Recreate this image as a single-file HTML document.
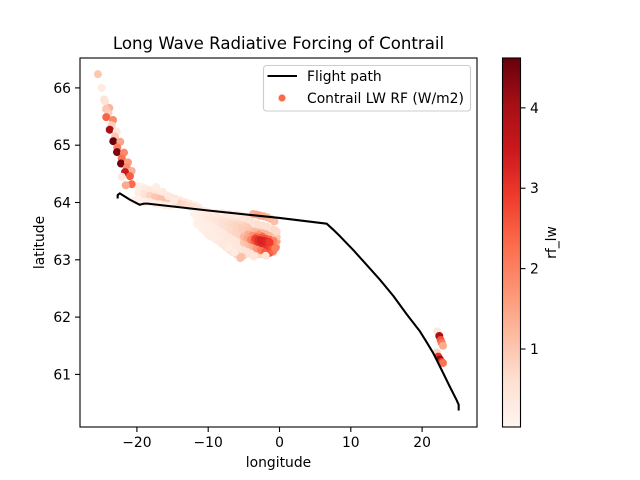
<!DOCTYPE html>
<html>
<head>
<meta charset="utf-8">
<title>Long Wave Radiative Forcing of Contrail</title>
<style>
html,body{margin:0;padding:0;background:#fff;}
svg{display:block;}
text{font-family:"DejaVu Sans",sans-serif;fill:#000;}
</style>
</head>
<body>
<svg id="chart" xmlns="http://www.w3.org/2000/svg" width="640" height="480" viewBox="0 0 640 480">
  <defs>
    <linearGradient id="reds" x1="0" y1="1" x2="0" y2="0">
      <stop offset="0" stop-color="#fff5f0"/>
      <stop offset="0.125" stop-color="#fee0d2"/>
      <stop offset="0.25" stop-color="#fcbba1"/>
      <stop offset="0.375" stop-color="#fc9272"/>
      <stop offset="0.5" stop-color="#fb6a4a"/>
      <stop offset="0.625" stop-color="#ef3b2c"/>
      <stop offset="0.75" stop-color="#cb181d"/>
      <stop offset="0.875" stop-color="#a50f15"/>
      <stop offset="1" stop-color="#67000d"/>
    </linearGradient>
    <clipPath id="plot-clip"><rect x="80" y="58" width="397" height="369"/></clipPath>
  </defs>
  <rect x="0" y="0" width="640" height="480" fill="#fff"/>
  <g id="marks" clip-path="url(#plot-clip)"></g>
  <rect x="80" y="58" width="397" height="369" fill="none" stroke="#000" stroke-width="1.1"/>
  <g id="axes"></g>
  <text x="278.5" y="49" font-size="16.6" text-anchor="middle">Long Wave Radiative Forcing of Contrail</text>
  <text x="278.5" y="467" font-size="13.89" text-anchor="middle">longitude</text>
  <text x="0" y="0" font-size="13.89" text-anchor="middle" transform="translate(44,242.5) rotate(-90)">latitude</text>
  <g>
    <rect x="263.5" y="65.5" width="207" height="45.5" rx="3" fill="#fff" fill-opacity="0.8" stroke="#ccc" stroke-width="1.1"/>
    <line x1="267.5" y1="76" x2="297" y2="76" stroke="#000" stroke-width="2.08"/>
    <text x="307" y="81" font-size="13.89">Flight path</text>
    <circle cx="282" cy="98" r="3.6" fill="#fb6a4a"/>
    <text x="307" y="103" font-size="13.89">Contrail LW RF (W/m2)</text>
  </g>
  <rect x="502.5" y="58" width="18" height="369" fill="url(#reds)" stroke="#000" stroke-width="1.1"/>
  <g id="cbar-axis"></g>
  <text x="0" y="0" font-size="13.89" text-anchor="middle" transform="translate(556,242.5) rotate(-90)">rf_lw</text>
</svg>
<script>
const xTicks = [-20, -10, 0, 10, 20];
const yTicks = [61, 62, 63, 64, 65, 66];
const cbarTicks = [1, 2, 3, 4];
const pathLon = [-22.7,-22.7,-22.4,-21,-19.6,-19,-18.5,-10,0,6.62,7.5,8.49,10.35,12.23,14.1,15.96,17.84,19.7,20.65,21.57,22.97,23.91,24.85,25.13,25.13];
const pathLat = [64.07,64.13,64.16,64.05,63.96,63.98,63.98,63.86,63.73,63.63,63.53,63.41,63.17,62.91,62.65,62.37,62.05,61.75,61.56,61.37,61.02,60.78,60.55,60.47,60.37];
const contrailLon = [
 -20.2,-19.5,-18.8,-18.1,-17.4,-16.7,-16,-15.3,-14.6,-13.9,-13.2,-12.5,-11.8,
 -19,-18.3,-17.6,-16.9,-16.2,-15.5,-14.8,-14.1,-13.4,-12.7,-12,-11.3,
 -19.8,-19,-18.2,-17.5,-16.8,-16.1,-15.4,-14.7,-14,-13.3,-12.6,-11.9,-11.2,-10.5,-9.8,
 -20.3,-19.6,-18.9,-18.2,-17.5,-16.8,-16.1,-15.4,
 -17.3,-16.4,-15.6,-14.8,
 -11.5,-10.9,-10.3,-9.7,-9.1,-8.5,-7.9,-7.3,-6.7,-6.1,-5.5,-4.9,
 -10.5,-9.9,-9.3,-8.7,-8.1,-7.5,-6.9,-6.3,-5.7,-5.1,-4.5,-3.9,-3.3,-2.7,
 -9.5,-8.9,-8.3,-7.7,-7.1,-6.5,-5.9,-5.3,
 -5,-4.5,-4,-3.5,-3,-2.5,
 -11.6,-11,-10.5,-10,-9.5,-9,-8.5,-8,-7.5,-7,-6.5,-6,-5.5,
 -12,-11.4,-10.8,-10.2,-9.6,-9,-8.4,-7.8,-7.2,-6.6,-6,-5.4,-4.8,-4.2,-3.6,
 -11,-10.4,-9.8,-9.2,-8.6,-8,-7.4,-6.8,-6.2,-5.6,-5,-4.4,-3.8,-3.2,-2.6,-1.9,
 -10,-9.4,-8.8,-8.2,-7.6,-7,-6.4,-5.8,-5.2,-4.6,-4,-3.4,-2.8,-2.2,-1.6,-0.9,
 -9,-8.4,-7.8,-7.2,-6.6,-6,-5.4,-4.8,-4.2,-3.6,-3,-2.4,-1.8,-1.2,-0.5,
 -8,-7.4,-6.8,-6.2,-5.6,-5,-4.4,-3.8,-3.2,-2.6,-2,-1.4,-0.9,-0.4,
 -7,-6.4,-5.8,-5.2,-4.6,-4,-3.4,-2.8,-2.2,-1.6,-1,-0.4,
 -6,-5.4,-4.8,-4.2,-3.6,-3,-2.4,-1.8,-1.2,-0.7,-0.4,
 -3.7,-3.2,-2.7,-2.2,-1.7,-1.2,-0.7,
 -5,-4.4,-3.8,-3.2,-2.6,-2,-1.4,-0.9,
 -4.4,-3.8,-3.2,-2.6,-2,-1.4,-0.8,
 -5,-4.5,-4,-3.5,-3,-2.5,-2,-1.5,-1,-0.6,
 -3.4,-3,-2.6,-2.2,-1.8,-1.4,
 -1.94,-10,-11.2,-6.3,-7.1,-5.3,
 -25.46,-24.94,-24.6,-24.47,-23.87,-24.33,-24,-24.3,-23.35,-23.53,-23.81,-22.83,-23.07,-23.31,-22.33,-22.75,-22.79,-21.81,-22.13,-22.23,-21.25,-21.43,-20.73,-21.67,-20.97,-22.13,-20.73,-21.57,
 22.13,22.41,22.6,22.75,22.93,22.05,22.27,22.5,22.75,22.93
];
const contrailLat = [
 64.3,64.28,64.25,64.22,64.19,64.16,64.13,64.1,64.07,64.04,64.01,63.98,63.95,
 64.23,64.2,64.17,64.14,64.12,64.09,64.06,64.03,64,63.97,63.94,63.91,
 64.17,64.14,64.12,64.09,64.07,64.05,64.03,64,63.98,63.96,63.93,63.91,63.88,63.85,63.82,
 64.04,64.02,64,64.01,63.98,63.97,63.95,63.94,
 64.27,64.19,64.11,64.03,
 63.7,63.63,63.57,63.52,63.47,63.42,63.37,63.32,63.26,63.2,63.14,63.08,
 63.76,63.7,63.65,63.6,63.55,63.51,63.46,63.41,63.37,63.32,63.27,63.22,63.16,63.1,
 63.77,63.72,63.68,63.64,63.59,63.55,63.5,63.46,
 63.14,63.11,63.1,63.1,63.1,63.1,
 63.62,63.56,63.5,63.44,63.4,63.36,63.32,63.27,63.22,63.17,63.13,63.09,63.03,
 63.8,63.75,63.7,63.65,63.6,63.55,63.5,63.45,63.4,63.35,63.3,63.25,63.19,63.13,63.06,
 63.82,63.78,63.74,63.7,63.66,63.62,63.57,63.52,63.48,63.44,63.39,63.34,63.29,63.23,63.16,63.07,
 63.83,63.79,63.76,63.72,63.68,63.64,63.6,63.56,63.51,63.47,63.42,63.38,63.33,63.28,63.22,63.14,
 63.82,63.79,63.76,63.72,63.69,63.65,63.62,63.58,63.54,63.5,63.46,63.42,63.37,63.31,63.22,
 63.82,63.79,63.76,63.73,63.7,63.67,63.63,63.6,63.56,63.52,63.47,63.42,63.37,63.32,
 63.8,63.78,63.76,63.73,63.71,63.68,63.62,63.58,63.54,63.49,63.44,63.4,
 63.79,63.77,63.74,63.7,63.64,63.62,63.6,63.58,63.55,63.52,63.49,
 63.8,63.79,63.77,63.76,63.74,63.71,63.67,
 63.3,63.27,63.24,63.2,63.17,63.14,63.12,63.17,
 63.44,63.42,63.4,63.38,63.37,63.35,63.33,
 63.4,63.38,63.35,63.33,63.31,63.29,63.27,63.24,63.22,63.2,
 63.37,63.35,63.34,63.33,63.32,63.31,
 63.07,63.43,63.64,63.13,63.22,63.05,
 66.24,66,65.8,65.76,65.65,65.63,65.56,65.49,65.44,65.35,65.27,65.24,65.15,65.07,65.06,64.96,64.88,64.87,64.77,64.68,64.7,64.61,64.55,64.53,64.46,64.45,64.32,64.3,
 61.75,61.67,61.6,61.55,61.5,61.38,61.31,61.26,61.22,61.2
];
const contrailRf = [
 0.15,0.2,0.2,0.25,0.3,0.3,0.3,0.3,0.3,0.25,0.25,0.2,0.2,
 0.3,0.4,0.45,0.5,0.55,0.55,0.5,0.45,0.4,0.35,0.3,0.3,
 0.25,0.5,0.8,1,1.1,1.1,1,0.9,0.8,0.7,0.6,0.5,0.45,0.4,0.35,
 0.15,0.15,0.2,0.25,0.2,0.2,0.2,0.2,
 0.25,0.3,0.35,0.3,
 0.12,0.15,0.2,0.2,0.25,0.3,0.3,0.35,0.35,0.4,0.45,0.5,
 0.2,0.25,0.3,0.35,0.4,0.45,0.5,0.55,0.6,0.65,0.7,0.8,0.9,0.8,
 0.35,0.4,0.45,0.5,0.6,0.65,0.7,0.8,
 0.4,0.5,0.6,0.7,0.7,0.7,
 0.12,0.15,0.2,0.25,0.25,0.25,0.3,0.35,0.4,0.45,0.6,0.8,1.1,
 0.12,0.15,0.2,0.25,0.25,0.3,0.3,0.35,0.4,0.4,0.4,0.45,0.5,0.5,0.45,
 0.2,0.3,0.35,0.4,0.45,0.55,0.6,0.7,0.75,0.8,0.9,1,1.2,1.3,1.2,0.6,
 0.3,0.4,0.45,0.55,0.6,0.7,0.75,0.8,0.9,1,1.2,1.6,2.2,2.6,2.4,1.7,
 0.3,0.4,0.5,0.6,0.7,0.8,0.85,0.9,1,1.2,1.6,2.4,3,2.8,1.9,
 0.3,0.4,0.5,0.6,0.7,0.8,0.9,1,1.2,1.7,2.3,2.4,2,1.5,
 0.3,0.35,0.45,0.55,0.65,0.7,0.8,1,1.2,1.3,1.2,1,
 0.3,0.35,0.4,0.5,0.5,0.6,0.6,0.6,0.6,0.7,0.7,
 1.3,1.4,1.5,1.4,1.3,1.2,1.1,
 1,1.1,1.3,1.7,2.1,2.5,2.6,2.3,
 1.4,1.8,2.2,2.5,2.6,2.4,2,
 1.2,1.5,2,2.5,3,3.2,3.1,2.9,2.6,2,
 2.8,3.1,3.3,3.3,3.2,2.9,
 0.5,0.25,0.2,0.3,0.25,1.1,
 1.0,0.3,0.5,0.5,1.3,1.0,0.9,2.4,1.9,0.9,4.0,0.4,1.0,4.6,1.5,2,4.4,1.9,2.2,4.5,1.6,1.8,1.3,3.5,2.5,0.4,2.3,1.4,
 0.4,4,2.6,2.2,1.4,0.8,3,4.2,3,2.2
];
const colorStops = ['#fff5f0','#fee0d2','#fcbba1','#fc9272','#fb6a4a','#ef3b2c','#cb181d','#a50f15','#67000d'];
const rfMin = 0.03;
const rfMax = 4.62;

const NS = 'http://www.w3.org/2000/svg';
function xScale(v){ return 279.5 + 7.13 * v; }
function yScale(v){ return 202.5 - 57.3 * (v - 64); }
function cScale(v){ return 427 - 369 * (v - rfMin) / (rfMax - rfMin); }
function hexToRgb(h){ return [1,3,5].map(function(i){ return parseInt(h.substr(i,2),16); }); }
function rfColor(v){
  const t = Math.max(0, Math.min(1, (v - rfMin) / (rfMax - rfMin))) * (colorStops.length - 1);
  const i = Math.min(colorStops.length - 2, Math.floor(t));
  const a = hexToRgb(colorStops[i]);
  const b = hexToRgb(colorStops[i + 1]);
  const f = t - i;
  return 'rgb(' + a.map(function(c, k){ return Math.round(c + (b[k] - c) * f); }).join(',') + ')';
}
const marks = document.getElementById('marks');
contrailLon.forEach(function(lon, i){
  const c = document.createElementNS(NS, 'circle');
  
  
  c.setAttribute('cx', xScale(lon));
  c.setAttribute('cy', yScale(contrailLat[i]));
  c.setAttribute('r', 4);
  c.setAttribute('fill', rfColor(contrailRf[i]));
  marks.appendChild(c);
});
const flight = document.createElementNS(NS, 'polyline');


flight.setAttribute('points', pathLon.map(function(lon, i){ return xScale(lon) + ',' + yScale(pathLat[i]); }).join(' '));
flight.setAttribute('fill', 'none');
flight.setAttribute('stroke', '#000');
flight.setAttribute('stroke-width', 2.08);
flight.setAttribute('stroke-linejoin', 'round');
marks.appendChild(flight);

function addLine(parent, x1, y1, x2, y2){
  const l = document.createElementNS(NS, 'line');
  l.setAttribute('x1', x1);
  l.setAttribute('y1', y1);
  l.setAttribute('x2', x2);
  l.setAttribute('y2', y2);
  l.setAttribute('stroke', '#000');
  l.setAttribute('stroke-width', 1.1);
  parent.appendChild(l);
  return l;
}
function addText(parent, x, y, str, anchor){
  const t = document.createElementNS(NS, 'text');
  t.setAttribute('x', x);
  t.setAttribute('y', y);
  t.setAttribute('font-size', 13.89);
  t.setAttribute('text-anchor', anchor);
  t.textContent = str;
  parent.appendChild(t);
  return t;
}
const axes = document.getElementById('axes');
xTicks.forEach(function(v){
  const tick = addLine(axes, xScale(v), 427, xScale(v), 432);
  
  
  const label = addText(axes, xScale(v), 447, String(v).replace('-', '\u2212'), 'middle');
  
  
});
yTicks.forEach(function(v){
  const tick = addLine(axes, 75, yScale(v), 80, yScale(v));
  
  
  const label = addText(axes, 71, yScale(v) + 5, String(v), 'end');
  
  
});
const cbarAxis = document.getElementById('cbar-axis');
cbarTicks.forEach(function(v){
  const tick = addLine(cbarAxis, 520.5, cScale(v), 525.5, cScale(v));
  
  
  const label = addText(cbarAxis, 530, cScale(v) + 5, String(v), 'start');
  
  
});
</script>
</body>
</html>
